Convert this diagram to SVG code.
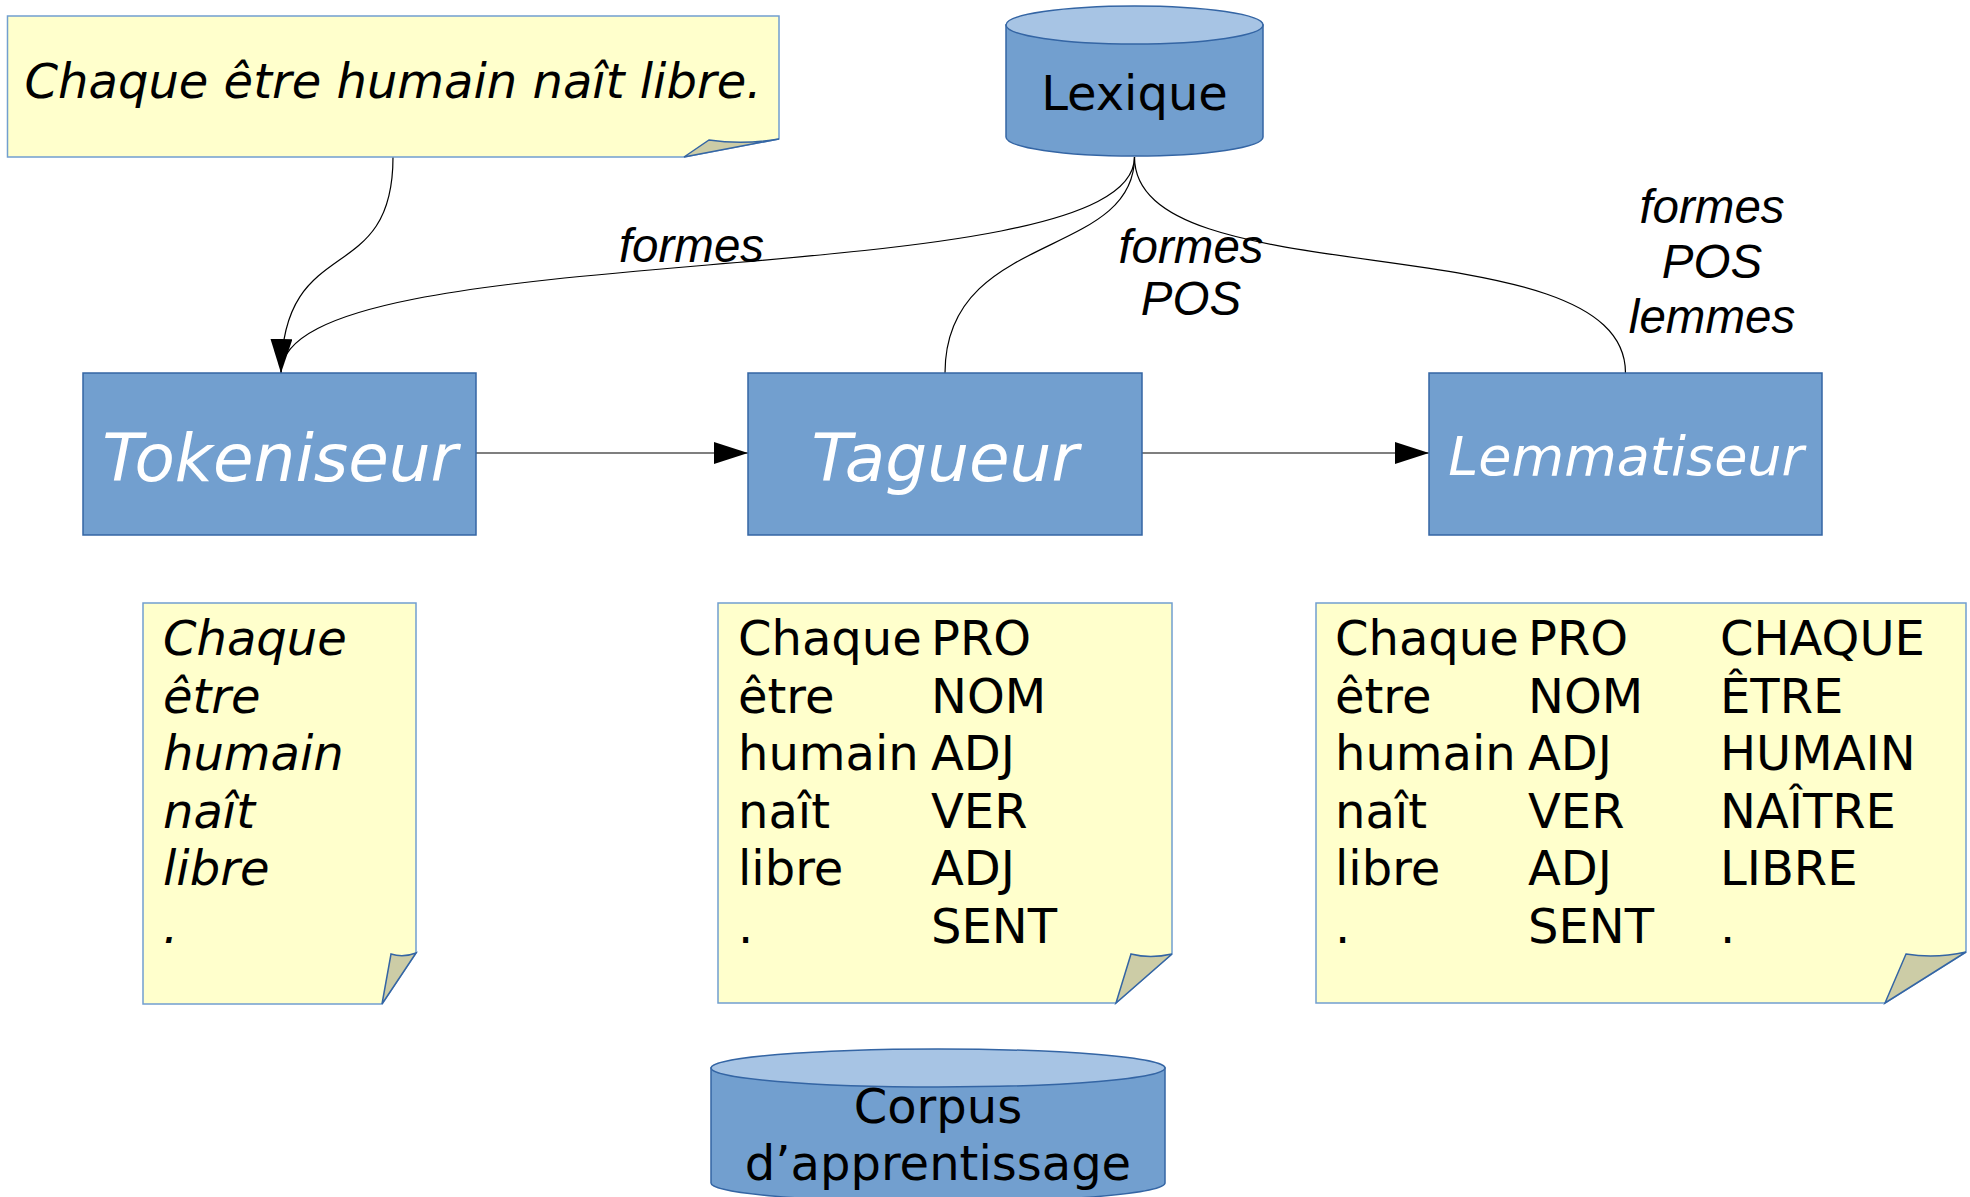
<svg xmlns="http://www.w3.org/2000/svg" width="1970" height="1197" viewBox="0 0 1970 1197">
<style>
.box{fill:#729fcf;stroke:#3465a4;stroke-width:1.5}
.cyl{fill:#729fcf;stroke:#3465a4;stroke-width:1.5}
.cyltop{fill:#a7c4e4;stroke:#3465a4;stroke-width:1.5}
.note{fill:#ffffcc;stroke:#729fcf;stroke-width:1.5}
.fold{fill:#cccca6;stroke:#3465a4;stroke-width:1.5}
.con{fill:none;stroke:#000;stroke-width:1.2}
.dv{font-family:"DejaVu Sans",sans-serif;font-size:48px;fill:#000}
.it{font-style:italic}
.wt{fill:#fff}
.lbl{font-family:"Liberation Sans",Arial,sans-serif;font-style:italic;font-size:47.5px;fill:#000;text-anchor:middle}
.mid{text-anchor:middle}
</style>
<defs>
<marker id="arr" viewBox="0 0 34 22" refX="34" refY="11" markerWidth="34" markerHeight="22" markerUnits="userSpaceOnUse" orient="auto">
<path d="M0,0 L34,11 L0,22 Z" fill="#000"/>
</marker>
</defs>

<g id="connectors">
<path class="con" d="M393,157 C393,290 283,230 281,373" marker-end="url(#arr)"/>
<path class="con" d="M1134.5,157 C1134.5,300 281,230 281,373"/>
<path class="con" d="M1134.5,157 C1134.5,260 945,230 945,373"/>
<path class="con" d="M1134.5,157 C1134.5,300 1625.5,220 1625.5,373"/>
<line class="con" x1="476" y1="453" x2="748" y2="453" marker-end="url(#arr)"/>
<line class="con" x1="1142" y1="453" x2="1429" y2="453" marker-end="url(#arr)"/>
<text class="lbl" x="691.5" y="262">formes</text>
<text class="lbl" x="1191" y="263">formes</text>
<text class="lbl" x="1191" y="315">POS</text>
<text class="lbl" x="1712" y="223">formes</text>
<text class="lbl" x="1712" y="278">POS</text>
<text class="lbl" x="1712" y="333">lemmes</text>
</g>

<g id="note-phrase">
<path class="note" d="M7.5,16 H779 V139 L684,157 H7.5 Z"/>
<path class="fold" d="M684,157 L709,140 Q743,145 779,139 Z"/>
<text class="dv it mid" x="393" y="98">Chaque être humain naît libre.</text>
</g>

<g id="lexique">
<path class="cyl" d="M1006,25 V137 A128.5,19 0 0 0 1263,137 V25 Z"/>
<ellipse class="cyltop" cx="1134.5" cy="25" rx="128.5" ry="19"/>
<text class="dv mid" x="1134.5" y="110">Lexique</text>
</g>

<g id="tokeniseur">
<rect class="box" x="83" y="373" width="393" height="162"/>
<text class="dv it wt mid" x="280" y="481" style="font-size:66px">Tokeniseur</text>
</g>

<g id="tagueur">
<rect class="box" x="748" y="373" width="394" height="162"/>
<text class="dv it wt mid" x="945" y="481" style="font-size:66px">Tagueur</text>
</g>

<g id="lemmatiseur">
<rect class="box" x="1429" y="373" width="393" height="162"/>
<text class="dv it wt mid" x="1626" y="475" style="font-size:54px">Lemmatiseur</text>
</g>

<g id="note-tokens">
<path class="note" d="M143,603 H416 V953 L382,1004 H143 Z"/>
<path class="fold" d="M382,1004 L391,954 Q403,958 416,953 Z"/>
<g class="dv it">
<text x="163" y="655">Chaque</text>
<text x="163" y="712.5">être</text>
<text x="163" y="770">humain</text>
<text x="163" y="827.5">naît</text>
<text x="163" y="885">libre</text>
<text x="163" y="942.5">.</text>
</g>
</g>

<g id="note-tags">
<path class="note" d="M718,603 H1172 V954 L1116,1003 H718 Z"/>
<path class="fold" d="M1116,1003 L1131,954 Q1150,959 1172,954 Z"/>
<g class="dv">
<text x="738" y="655">Chaque</text>
<text x="738" y="712.5">être</text>
<text x="738" y="770">humain</text>
<text x="738" y="827.5">naît</text>
<text x="738" y="885">libre</text>
<text x="738" y="942.5">.</text>
<text x="931" y="655">PRO</text>
<text x="931" y="712.5">NOM</text>
<text x="931" y="770">ADJ</text>
<text x="931" y="827.5">VER</text>
<text x="931" y="885">ADJ</text>
<text x="931" y="942.5">SENT</text>
</g>
</g>

<g id="note-lemmes">
<path class="note" d="M1316,603 H1966 V952 L1885,1003 H1316 Z"/>
<path class="fold" d="M1885,1003 L1906,954 Q1935,959 1966,952 Z"/>
<g class="dv">
<text x="1335" y="655">Chaque</text>
<text x="1335" y="712.5">être</text>
<text x="1335" y="770">humain</text>
<text x="1335" y="827.5">naît</text>
<text x="1335" y="885">libre</text>
<text x="1335" y="942.5">.</text>
<text x="1528" y="655">PRO</text>
<text x="1528" y="712.5">NOM</text>
<text x="1528" y="770">ADJ</text>
<text x="1528" y="827.5">VER</text>
<text x="1528" y="885">ADJ</text>
<text x="1528" y="942.5">SENT</text>
<text x="1720" y="655">CHAQUE</text>
<text x="1720" y="712.5">ÊTRE</text>
<text x="1720" y="770">HUMAIN</text>
<text x="1720" y="827.5">NAÎTRE</text>
<text x="1720" y="885">LIBRE</text>
<text x="1720" y="942.5">.</text>
</g>
</g>

<g id="corpus">
<path class="cyl" d="M711,1068 V1183 A227,19 0 0 0 1165,1183 V1068 Z"/>
<ellipse class="cyltop" cx="938" cy="1068" rx="227" ry="19"/>
<text class="dv mid" x="938" y="1123">Corpus</text>
<text class="dv mid" x="938" y="1180">d’apprentissage</text>
</g>
</svg>
